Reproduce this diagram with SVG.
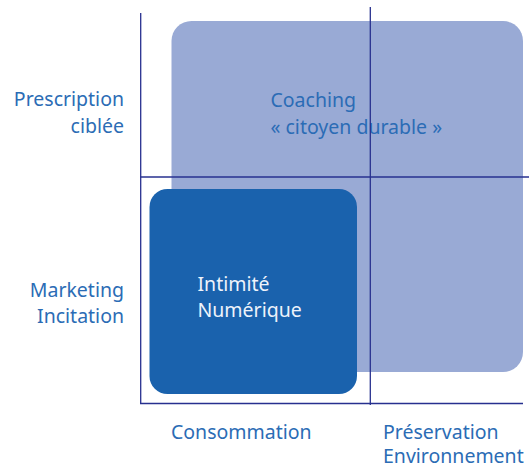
<svg xmlns="http://www.w3.org/2000/svg" width="529" height="467" viewBox="0 0 529 467">
<style>
.lbl{font-family:"Noto Sans","Liberation Sans",sans-serif;font-size:19.5px;fill:#2b6cb5}
.in{font-family:"Noto Sans","Liberation Sans",sans-serif;font-size:19.5px;fill:#eef3fb}
.ax{stroke:#27308f;stroke-width:1.3;fill:none}
</style>
<rect width="529" height="467" fill="#ffffff"/>
<g id="coaching">
<rect x="171.5" y="21" width="351.5" height="351" rx="20" fill="#99aad5"/>
<text class="lbl" x="270.5" y="107">Coaching</text>
<text class="lbl" x="270.5" y="134">« citoyen durable »</text>
</g>
<g id="intimite">
<rect x="149.5" y="189" width="207.5" height="205" rx="18" fill="#1a62ad"/>
<text class="in" x="197.5" y="291">Intimité</text>
<text class="in" x="197.5" y="317">Numérique</text>
</g>
<g id="axes">
<line class="ax" x1="140.7" y1="13" x2="140.7" y2="403.5"/>
<line class="ax" x1="370.3" y1="7" x2="370.3" y2="405"/>
<line class="ax" x1="140" y1="177" x2="529" y2="177"/>
<line class="ax" x1="140" y1="403.5" x2="523" y2="403.5"/>
</g>
<g id="labels">
<text class="lbl" x="124" y="106" text-anchor="end">Prescription</text>
<text class="lbl" x="124" y="133" text-anchor="end">ciblée</text>
<text class="lbl" x="124" y="297" text-anchor="end">Marketing</text>
<text class="lbl" x="124" y="323" text-anchor="end">Incitation</text>
<text class="lbl" x="171" y="439">Consommation</text>
<text class="lbl" x="383" y="439">Préservation</text>
<text class="lbl" x="383" y="463">Environnement</text>
</g>
</svg>
